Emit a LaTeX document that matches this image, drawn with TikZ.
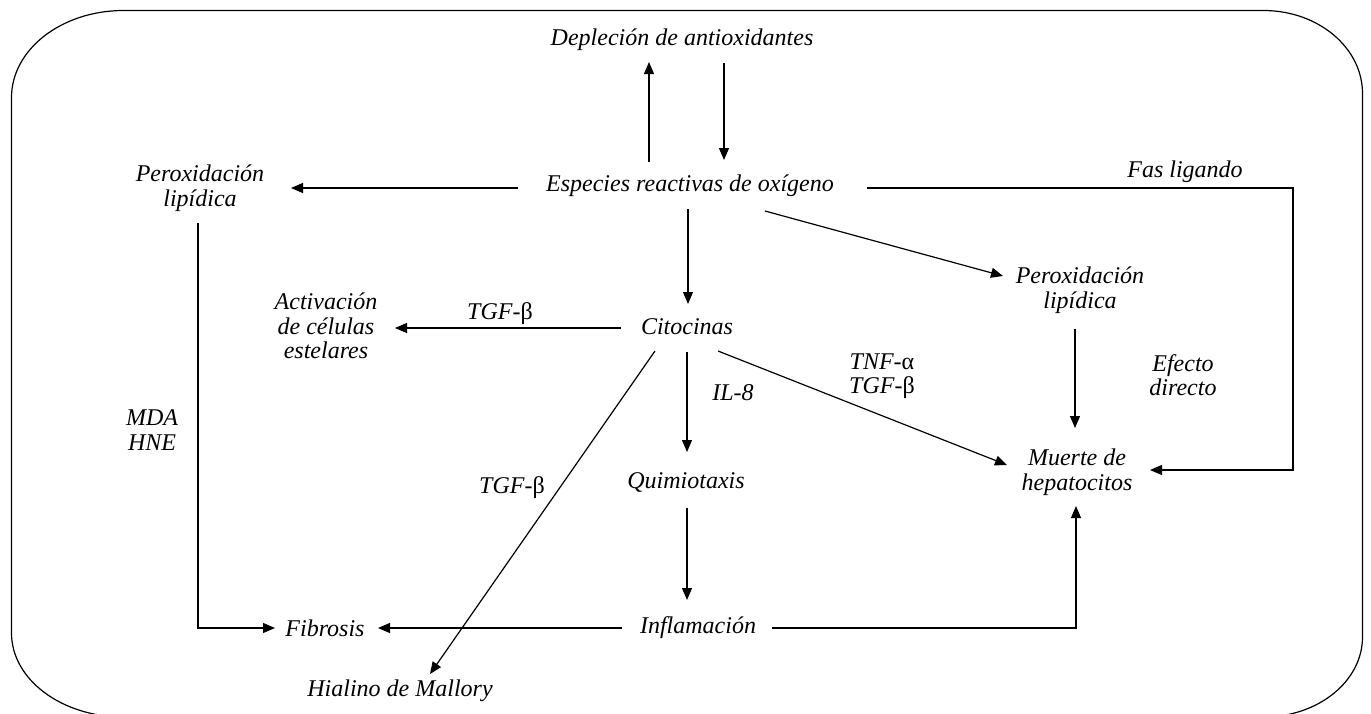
\documentclass[tikz,border=0pt]{standalone}
\usepackage{fontspec}
\setmainfont{Liberation Serif}
\usetikzlibrary{arrows.meta,calc}
\newcommand{\gb}{{\upshape β}}
\newcommand{\ga}{{\upshape α}}
\begin{document}
\begin{tikzpicture}[x=1pt,y=-1pt,
  txt/.style={font=\fontsize{24}{24.5}\selectfont\itshape, inner sep=0pt, align=center},
  ln/.style={line width=1.2pt, line cap=butt},
  arr/.style={ln, -{Triangle[length=12pt,width=10pt]}}]
\useasboundingbox (0,0) rectangle (1371,713);

% rounded frame (lower edge runs just below the page)
\begin{scope}
\clip (0,0) rectangle (1371,713);
\draw[line width=1.2pt]
  (123.5,10.5) -- (1263.5,10.5)
  .. controls (1318.2,10.5) and (1362.5,47.7) .. (1362.5,93.5)
  -- (1362.5,637)
  .. controls (1362.5,681.2) and (1318.2,717) .. (1263.5,717)
  -- (123.5,717)
  .. controls (61.6,717) and (11.5,679.4) .. (11.5,633)
  -- (11.5,97.5)
  .. controls (11.5,49.5) and (61.6,10.5) .. (123.5,10.5) -- cycle;
\end{scope}

% text nodes
\node[txt] (dep)  at (682,40)  {Depleción de antioxidantes};
\node[txt] (esp)  at (690,186) {Especies reactivas de oxígeno};
\node[txt] (perL) at (200,188) {Peroxidación\\lipídica};
\node[txt] (fas)  at (1185,172) {Fas ligando};
\node[txt] (perR) at (1080,290) {Peroxidación\\lipídica};
\node[txt] (act)  at (326,326) {Activación\\de células\\estelares};
\node[txt] (tgfa) at (500,314) {TGF-\gb};
\node[txt] (cit)  at (687,327) {Citocinas};
\node[txt] (il8)  at (733,393) {IL-8};
\node[txt] (tnf)  at (882,376) {TNF-\ga\\TGF-\gb};
\node[txt] (efe)  at (1183,375) {Efecto\\directo};
\node[txt] (mda)  at (152,430) {MDA\\HNE};
\node[txt] (tgfb) at (512,488) {TGF-\gb};
\node[txt] (qui)  at (686,482) {Quimiotaxis};
\node[txt] (mue)  at (1077,472) {Muerte de\\hepatocitos};
\node[txt] (fib)  at (325,628) {Fibrosis};
\node[txt] (inf)  at (698,628) {Inflamación};
\node[txt] (hia)  at (400,691) {Hialino de Mallory};

% connectors
\draw[arr] ($(esp)+(-41,-24)$) -- ($(dep)+(-33,22)$);
\draw[arr] ($(dep)+(42,23)$) -- ($(esp)+(34,-26)$);
\draw[arr] ($(esp)+(-172,2)$) -- ($(perL)+(91,0)$);
\draw[arr] ($(esp)+(177,2)$) -| ($(mue)+(216,-2)$) -- ($(mue)+(73,-2)$);
\draw[arr] ($(esp)+(-2,23)$) -- ($(cit)+(1,-23)$);
\draw[arr] ($(esp)+(75,25)$) -- ($(perR)+(-77,-14)$);
\draw[arr] ($(perL)+(-2,35)$) |- ($(fib)+(-50,0)$);
\draw[arr] ($(cit)+(-66,1)$) -- ($(act)+(69,2)$);
\draw[arr] ($(cit)+(0,25)$) -- ($(qui)+(1,-30)$);
\draw[arr] ($(cit)+(31,24)$) -- ($(mue)+(-70,-7)$);
\draw[arr] ($(cit)+(-32,24)$) -- ($(hia)+(30,-17)$);
\draw[arr] ($(perR)+(-5,39)$) -- ($(mue)+(-2,-44)$);
\draw[arr] ($(qui)+(1,26)$) -- ($(inf)+(-11,-28)$);
\draw[arr] ($(inf)+(-76,0)$) -- ($(fib)+(53,0)$);
\draw[arr] ($(inf)+(74,0)$) -| ($(mue)+(-1,34)$);
\end{tikzpicture}
\end{document}
